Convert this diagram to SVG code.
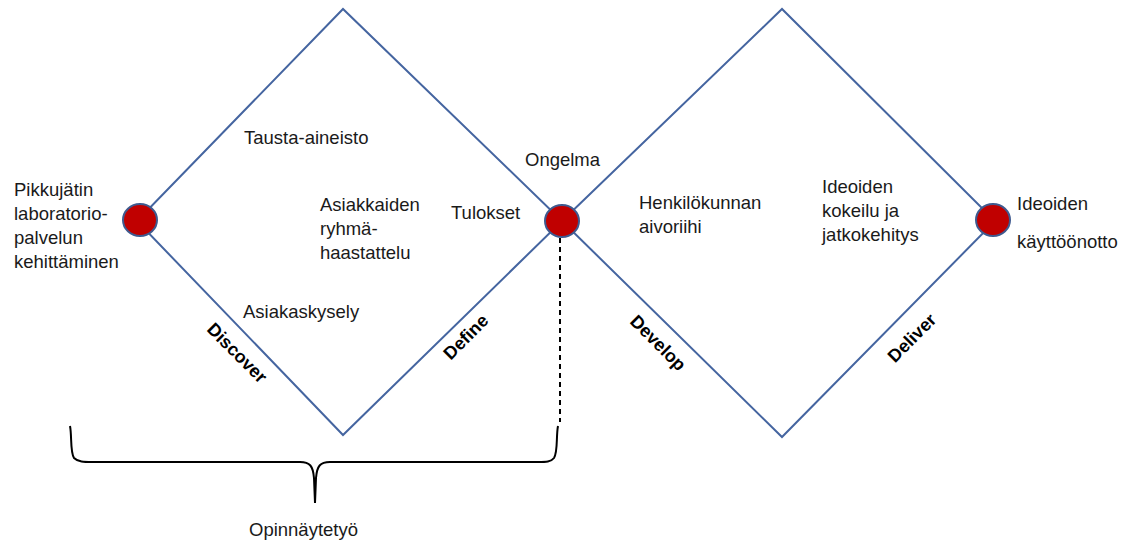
<svg xmlns="http://www.w3.org/2000/svg" width="1130" height="547" viewBox="0 0 1130 547">
<style>
.t{font-family:"Liberation Sans",Arial,sans-serif;font-size:18.5px;fill:#1a1a1a}
.b{font-family:"Liberation Sans",Arial,sans-serif;font-size:18px;font-weight:bold;fill:#000}
.edge{fill:none;stroke:#4565a0;stroke-width:2}
.dot{fill:#c00000;stroke:#3f5a8f;stroke-width:2}
</style>
<rect width="1130" height="547" fill="#fff"/>
<g id="connectors">
<polygon class="edge" points="137,221 343,9 562,221 343,435"/>
<polygon class="edge" points="562,221 782,9 995,221 782,437"/>
<line x1="560" y1="238" x2="560" y2="422" stroke="#000" stroke-width="2" stroke-dasharray="5,4"/>
<path d="M70,426 C72,436 70,452 74,458 C78,462 84,462 92,462 L300,462 C310,462 313,466 314,478 L315,503 M315,503 L316,478 C317,466 320,462 330,462 L538,462 C546,462 551,462 554,458 C558,452 556,436 558,426" fill="none" stroke="#000" stroke-width="2"/>
</g>
<g id="node-start">
<ellipse class="dot" cx="140" cy="220" rx="17" ry="16"/>
<text class="t" x="14" y="196">Pikkujätin</text>
<text class="t" x="14" y="220">laboratorio-</text>
<text class="t" x="14" y="244">palvelun</text>
<text class="t" x="14" y="268">kehittäminen</text>
</g>
<g id="node-problem">
<ellipse class="dot" cx="562" cy="221" rx="17" ry="16"/>
<text class="t" x="525" y="166">Ongelma</text>
</g>
<g id="node-end">
<ellipse class="dot" cx="993" cy="220" rx="17" ry="16"/>
<text class="t" x="1017" y="210">Ideoiden</text>
<text class="t" x="1017" y="248">käyttöönotto</text>
</g>
<g id="discover-content">
<text class="t" x="244" y="144">Tausta-aineisto</text>
<text class="t" x="320" y="211">Asiakkaiden</text>
<text class="t" x="320" y="235">ryhmä-</text>
<text class="t" x="320" y="259">haastattelu</text>
<text class="t" x="451" y="219">Tulokset</text>
<text class="t" x="243" y="318">Asiakaskysely</text>
</g>
<g id="develop-content">
<text class="t" x="639" y="209">Henkilökunnan</text>
<text class="t" x="639" y="233">aivoriihi</text>
<text class="t" x="822" y="193">Ideoiden</text>
<text class="t" x="822" y="217">kokeilu ja</text>
<text class="t" x="822" y="241">jatkokehitys</text>
</g>
<g id="phase-labels">
<text class="b" text-anchor="middle" transform="translate(237,353) rotate(45)" y="6">Discover</text>
<text class="b" text-anchor="middle" transform="translate(466,337) rotate(-45)" y="6">Define</text>
<text class="b" text-anchor="middle" transform="translate(658,343) rotate(45)" y="6">Develop</text>
<text class="b" text-anchor="middle" transform="translate(912,338) rotate(-45)" y="6">Deliver</text>
</g>
<g id="node-thesis">
<text class="t" x="249" y="536">Opinnäytetyö</text>
</g>
</svg>
